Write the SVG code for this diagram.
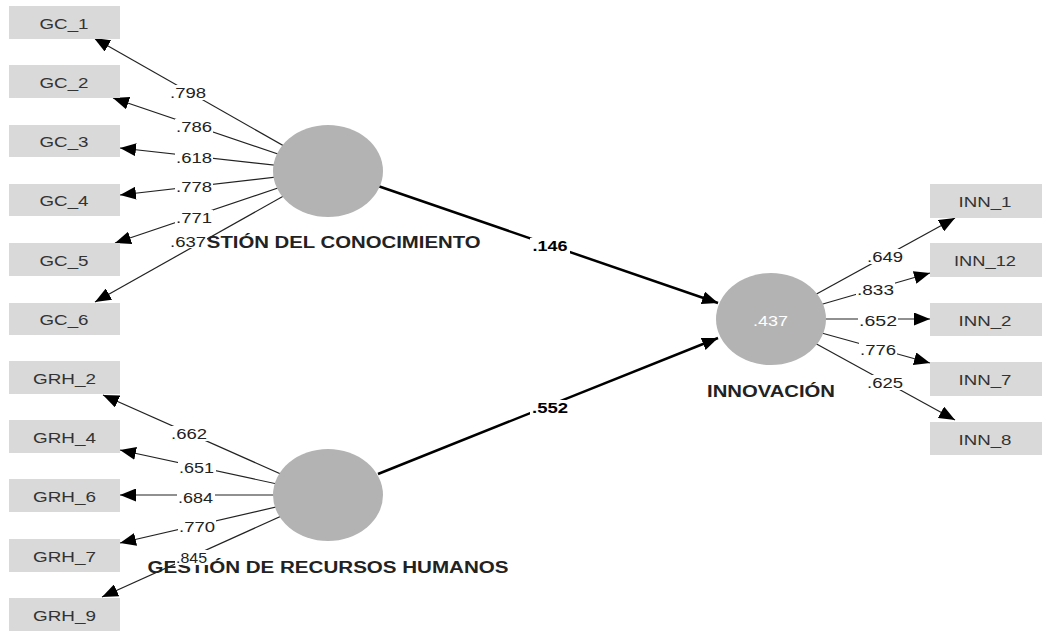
<svg xmlns="http://www.w3.org/2000/svg" width="1056" height="640" viewBox="0 0 1056 640">
<defs>
<marker id="ah" markerUnits="userSpaceOnUse" markerWidth="17" markerHeight="13" refX="16" refY="6.5" orient="auto">
<path d="M0,0 L16,6.5 L0,13 z" fill="#000"/>
</marker>
<style>
.box{fill:#d9d9d9}
.bt{font-family:"Liberation Sans",Arial,sans-serif;font-size:15px;fill:#333;text-anchor:middle}
.lv{fill:#b3b3b3}
.cn{font-family:"Liberation Sans",Arial,sans-serif;font-size:16px;font-weight:bold;fill:#222;text-anchor:middle}
.ld{stroke:#222;stroke-width:1.2;fill:none;marker-end:url(#ah)}
.pth{stroke:#000;stroke-width:2.5;fill:none;marker-end:url(#ah)}
.lt{font-family:"Liberation Sans",Arial,sans-serif;font-size:14px;fill:#222;text-anchor:middle}
.pt{font-family:"Liberation Sans",Arial,sans-serif;font-size:14px;font-weight:bold;fill:#000;text-anchor:middle}
.lb{fill:#fff}
</style>
</defs>
<rect width="1056" height="640" fill="#fff"/>
<g id="connectors">
<line class="ld" x1="328" y1="171" x2="94" y2="38"/>
<line class="ld" x1="328" y1="171" x2="113" y2="98"/>
<line class="ld" x1="328" y1="171" x2="120" y2="148"/>
<line class="ld" x1="328" y1="171" x2="120" y2="195"/>
<line class="ld" x1="328" y1="171" x2="115" y2="243"/>
<line class="ld" x1="328" y1="171" x2="95" y2="302"/>
<line class="ld" x1="328" y1="495" x2="103" y2="395"/>
<line class="ld" x1="328" y1="495" x2="120" y2="450"/>
<line class="ld" x1="328" y1="495" x2="120" y2="495"/>
<line class="ld" x1="328" y1="495" x2="120" y2="543"/>
<line class="ld" x1="328" y1="495" x2="102" y2="597"/>
<line class="ld" x1="771" y1="319" x2="955" y2="218"/>
<line class="ld" x1="771" y1="319" x2="930" y2="273"/>
<line class="ld" x1="771" y1="319" x2="930" y2="319"/>
<line class="ld" x1="771" y1="319" x2="930" y2="363"/>
<line class="ld" x1="771" y1="319" x2="955" y2="420"/>
<line class="pth" x1="378" y1="186" x2="718" y2="303"/>
<line class="pth" x1="378" y1="474" x2="718" y2="338"/>
</g>
<g id="GC_1"><rect class="box" x="9" y="6" width="111" height="33"/><text class="bt" x="64" y="29" textLength="49" lengthAdjust="spacingAndGlyphs">GC_1</text></g>
<g id="GC_2"><rect class="box" x="9" y="65" width="111" height="33"/><text class="bt" x="64" y="88" textLength="49" lengthAdjust="spacingAndGlyphs">GC_2</text></g>
<g id="GC_3"><rect class="box" x="9" y="125" width="111" height="32"/><text class="bt" x="64" y="147" textLength="49" lengthAdjust="spacingAndGlyphs">GC_3</text></g>
<g id="GC_4"><rect class="box" x="9" y="184" width="111" height="32"/><text class="bt" x="64" y="206" textLength="49" lengthAdjust="spacingAndGlyphs">GC_4</text></g>
<g id="GC_5"><rect class="box" x="9" y="243" width="111" height="33"/><text class="bt" x="64" y="266" textLength="49" lengthAdjust="spacingAndGlyphs">GC_5</text></g>
<g id="GC_6"><rect class="box" x="9" y="303" width="111" height="32"/><text class="bt" x="64" y="325" textLength="49" lengthAdjust="spacingAndGlyphs">GC_6</text></g>
<g id="GRH_2"><rect class="box" x="9" y="361" width="111" height="33"/><text class="bt" x="64.5" y="384" textLength="63" lengthAdjust="spacingAndGlyphs">GRH_2</text></g>
<g id="GRH_4"><rect class="box" x="9" y="420" width="111" height="33"/><text class="bt" x="64.5" y="443" textLength="63" lengthAdjust="spacingAndGlyphs">GRH_4</text></g>
<g id="GRH_6"><rect class="box" x="9" y="479" width="111" height="33"/><text class="bt" x="64.5" y="502" textLength="63" lengthAdjust="spacingAndGlyphs">GRH_6</text></g>
<g id="GRH_7"><rect class="box" x="9" y="539" width="111" height="33"/><text class="bt" x="64.5" y="562" textLength="63" lengthAdjust="spacingAndGlyphs">GRH_7</text></g>
<g id="GRH_9"><rect class="box" x="9" y="598" width="111" height="33"/><text class="bt" x="64.5" y="621" textLength="63" lengthAdjust="spacingAndGlyphs">GRH_9</text></g>
<g id="INN_1"><rect class="box" x="930" y="184" width="112" height="34"/><text class="bt" x="985" y="207" textLength="53" lengthAdjust="spacingAndGlyphs">INN_1</text></g>
<g id="INN_12"><rect class="box" x="930" y="243" width="112" height="34"/><text class="bt" x="985" y="266" textLength="62" lengthAdjust="spacingAndGlyphs">INN_12</text></g>
<g id="INN_2"><rect class="box" x="930" y="303" width="112" height="33"/><text class="bt" x="985" y="326" textLength="53" lengthAdjust="spacingAndGlyphs">INN_2</text></g>
<g id="INN_7"><rect class="box" x="930" y="362" width="112" height="34"/><text class="bt" x="985" y="385" textLength="53" lengthAdjust="spacingAndGlyphs">INN_7</text></g>
<g id="INN_8"><rect class="box" x="930" y="422" width="112" height="33"/><text class="bt" x="985" y="445" textLength="53" lengthAdjust="spacingAndGlyphs">INN_8</text></g>
<g id="GC"><ellipse class="lv" cx="328" cy="171" rx="55" ry="46"/><text class="cn" x="329" y="248" textLength="303" lengthAdjust="spacingAndGlyphs">GESTIÓN DEL CONOCIMIENTO</text></g>
<g id="GRH"><ellipse class="lv" cx="328" cy="495" rx="55" ry="46"/><text class="cn" x="328" y="573" textLength="361" lengthAdjust="spacingAndGlyphs">GESTIÓN DE RECURSOS HUMANOS</text></g>
<g id="INN"><ellipse class="lv" cx="771" cy="319" rx="55" ry="46"/><text x="770.5" y="326" textLength="35" lengthAdjust="spacingAndGlyphs" style="font-family:'Liberation Sans',Arial,sans-serif;font-size:14px;fill:#fff;text-anchor:middle">.437</text><text class="cn" x="771" y="397" textLength="128" lengthAdjust="spacingAndGlyphs">INNOVACIÓN</text></g>
<g id="labels">
<rect class="lb" x="169" y="85" width="38" height="15"/><text class="lt" x="188" y="98" textLength="36" lengthAdjust="spacingAndGlyphs">.798</text>
<rect class="lb" x="175" y="119" width="38" height="15"/><text class="lt" x="194" y="132" textLength="36" lengthAdjust="spacingAndGlyphs">.786</text>
<rect class="lb" x="175" y="150" width="38" height="15"/><text class="lt" x="194" y="163" textLength="36" lengthAdjust="spacingAndGlyphs">.618</text>
<rect class="lb" x="175" y="179" width="38" height="15"/><text class="lt" x="194" y="192" textLength="36" lengthAdjust="spacingAndGlyphs">.778</text>
<rect class="lb" x="175" y="210" width="38" height="15"/><text class="lt" x="194" y="223" textLength="36" lengthAdjust="spacingAndGlyphs">.771</text>
<rect class="lb" x="169" y="233" width="38" height="15"/><text class="lt" x="188" y="247" textLength="36" lengthAdjust="spacingAndGlyphs">.637</text>
<rect class="lb" x="170" y="426" width="38" height="15"/><text class="lt" x="189" y="439" textLength="36" lengthAdjust="spacingAndGlyphs">.662</text>
<rect class="lb" x="178" y="460" width="38" height="15"/><text class="lt" x="196.5" y="473" textLength="35" lengthAdjust="spacingAndGlyphs">.651</text>
<rect class="lb" x="177" y="490" width="38" height="15"/><text class="lt" x="195.5" y="503" textLength="35" lengthAdjust="spacingAndGlyphs">.684</text>
<rect class="lb" x="178" y="519" width="38" height="15"/><text class="lt" x="197" y="532" textLength="36" lengthAdjust="spacingAndGlyphs">.770</text>
<rect class="lb" x="175" y="550" width="34" height="15"/><text class="lt" x="191.5" y="563" textLength="31" lengthAdjust="spacingAndGlyphs">.845</text>
<rect class="lb" x="866" y="249" width="38" height="15"/><text class="lt" x="885" y="262" textLength="36" lengthAdjust="spacingAndGlyphs">.649</text>
<rect class="lb" x="856" y="282" width="39" height="15"/><text class="lt" x="875.5" y="295" textLength="37" lengthAdjust="spacingAndGlyphs">.833</text>
<rect class="lb" x="858" y="313" width="40" height="15"/><text class="lt" x="878" y="326" textLength="38" lengthAdjust="spacingAndGlyphs">.652</text>
<rect class="lb" x="859" y="342" width="38" height="15"/><text class="lt" x="878" y="355" textLength="36" lengthAdjust="spacingAndGlyphs">.776</text>
<rect class="lb" x="866" y="375" width="38" height="15"/><text class="lt" x="885" y="388" textLength="36" lengthAdjust="spacingAndGlyphs">.625</text>
<rect class="lb" x="530" y="238" width="40" height="16"/><text class="pt" x="550" y="251" textLength="35" lengthAdjust="spacingAndGlyphs">.146</text>
<rect class="lb" x="530" y="400" width="40" height="16"/><text class="pt" x="550" y="413" textLength="36" lengthAdjust="spacingAndGlyphs">.552</text>
</g>
</svg>
